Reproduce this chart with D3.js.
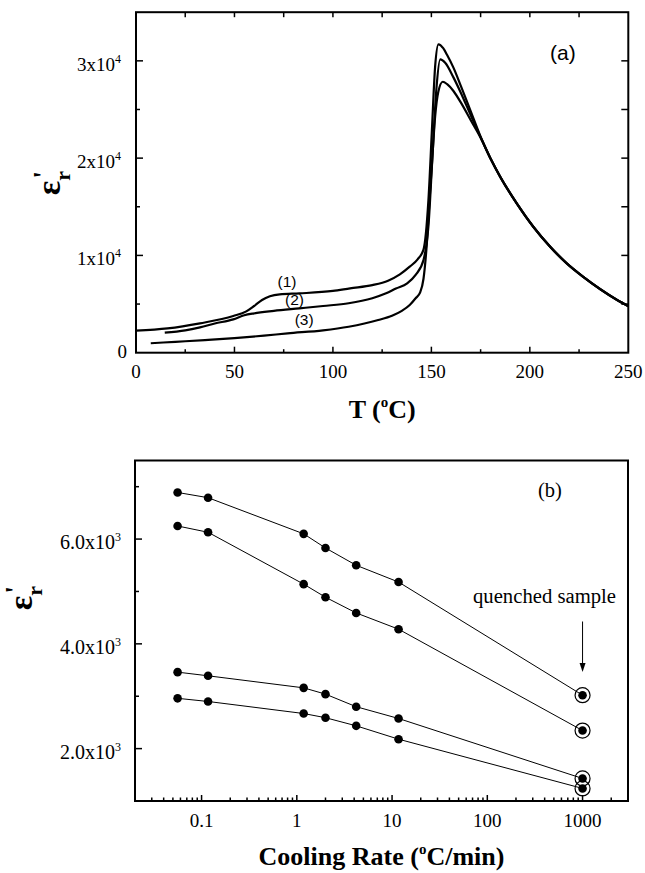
<!DOCTYPE html>
<html><head><meta charset="utf-8">
<script src="https://cdn.jsdelivr.net/npm/d3@7/dist/d3.min.js"></script>
<style>body{margin:0;background:#fff}svg{display:block}</style>
</head><body>
<svg id="c" width="645" height="873"></svg>
<script>
// ---------- Panel (a) data: T (°C) vs eps_r' ----------
const c1T = [0, 16, 32.5, 49.4, 56, 60, 64, 68, 73, 83, 100, 108.7, 120, 128, 134, 139, 143, 146, 148.5, 150.2, 151.9, 153.6, 156, 158, 161.2, 165, 170, 175, 180, 185, 193.4, 201.8, 210.4, 218.8, 227.3, 235.8, 244.3, 250];
const c1E = [2260, 2500, 3020, 3770, 4250, 4800, 5420, 5800, 6000, 6100, 6350, 6620, 6950, 7400, 8050, 8840, 9600, 10600, 15690, 22570, 29400, 31700, 31300, 30600, 29300, 27400, 24800, 22200, 20000, 18090, 15350, 12950, 10890, 9190, 7780, 6530, 5430, 4800];
const c2T = [14.6, 25, 32.5, 40, 49.4, 55, 60, 70, 83, 95, 108, 120, 127, 132, 137.7, 142, 146, 148.5, 150.5, 152.5, 154.5, 157, 161.2, 165, 170, 175, 180, 185, 193.4, 201.8, 210.4, 218.8, 227.3, 235.8, 244.3, 250];
const c2E = [2060, 2300, 2610, 3000, 3430, 3850, 4050, 4300, 4560, 4800, 5080, 5600, 6100, 6600, 7130, 8000, 9530, 13000, 20000, 27000, 30150, 29800, 28300, 26700, 24400, 22150, 19970, 18060, 15330, 12930, 10870, 9170, 7770, 6520, 5420, 4790];
const c3T = [7.5, 20, 35, 50, 65, 77, 95, 108, 116, 123, 130, 135, 139, 142, 144.3, 146, 147.7, 149, 150.2, 151.9, 153.5, 155.8, 158, 161.2, 165, 170, 175, 180, 185, 193.4, 201.8, 210.4, 218.8, 227.3, 235.8, 244.3, 250];
const c3E = [970, 1120, 1300, 1500, 1750, 1990, 2300, 2670, 3000, 3360, 3800, 4300, 4900, 5600, 6200, 7600, 11240, 15500, 19120, 24260, 26800, 27850, 27600, 26900, 25700, 23900, 22100, 19950, 18050, 15320, 12920, 10860, 9160, 7760, 6510, 5410, 4780];
const curveNames = ["(1)", "(2)", "(3)"];
const aXTicks = [0, 50, 100, 150, 200, 250];
const aXTickLabels = ["0", "50", "100", "150", "200", "250"];
const aYTicks = [0, 10000, 20000, 30000];
const aYTickLabels = ["0", "1x10^4", "2x10^4", "3x10^4"];

// ---------- Panel (b) data: cooling rate vs eps_r' ----------
const rates = [0.056, 0.117, 1.18, 2.0, 4.2, 11.7, 1000];
const serA = [6890, 6790, 6100, 5830, 5500, 5180, 3020];
const serB = [6250, 6130, 5140, 4890, 4590, 4280, 2345];
const serC = [3460, 3390, 3160, 3040, 2800, 2575, 1430];
const serD = [2960, 2900, 2670, 2590, 2435, 2180, 1240];
const bXTicks = [0.1, 1, 10, 100, 1000];
const bXTickLabels = ["0.1", "1", "10", "100", "1000"];
const bYTicks = [2000, 4000, 6000];
const bYTickLabels = ["2.0x10^3", "4.0x10^3", "6.0x10^3"];
const quenchedRate = 1000;

const serif = "'Liberation Serif','Times New Roman',serif";
const sans = "'Liberation Sans',Arial,sans-serif";
const svg = d3.select("#c");

function sciText(sel, str, supSize, supDy) {
  const [b, s] = str.split("^");
  sel.append("tspan").text(b);
  if (s) sel.append("tspan").attr("font-size", supSize).attr("dy", supDy).text(s);
}
function tickLines(g, vals, fn) {
  g.selectAll(null).data(vals).join("line").each(function(d){ const p = fn(d); d3.select(this).attr("x1",p[0]).attr("y1",p[1]).attr("x2",p[2]).attr("y2",p[3]); })
   .attr("stroke", "#000").attr("stroke-width", 1.5);
}

// ================= Panel (a) =================
const xA = d3.scaleLinear().domain([0, 250]).range([136, 628.3]);
const yA = d3.scaleLinear().domain([0, 35000]).range([352.7, 12.2]);
const gA = svg.append("g");
const [ax0, ax1] = xA.range(), [ay0, ay1] = yA.range();

const aXMinor = d3.range(25, 250, 50);
tickLines(gA, aXTicks.slice(1, -1), d => [xA(d), ay0, xA(d), ay0 - 6]);
tickLines(gA, aXMinor, d => [xA(d), ay0, xA(d), ay0 - 3.5]);
tickLines(gA, d3.range(25, 250, 25), d => [xA(d), ay1, xA(d), ay1 + 5]);
tickLines(gA, aYTicks.slice(1), d => [ax0, yA(d), ax0 + 7, yA(d)]);
tickLines(gA, d3.range(5000, 35000, 10000), d => [ax0, yA(d), ax0 + 4, yA(d)]);
tickLines(gA, d3.range(5000, 35000, 5000), d => [ax1, yA(d), ax1 - 7, yA(d)]);

gA.append("rect").attr("x", ax0).attr("y", ay1).attr("width", ax1 - ax0).attr("height", ay0 - ay1)
  .attr("fill", "none").attr("stroke", "#000").attr("stroke-width", 2);

aXTicks.forEach((v, i) => {
  gA.append("text").attr("x", xA(v)).attr("y", ay0 + 25).attr("text-anchor", "middle")
    .attr("font-family", serif).attr("font-size", 19).text(aXTickLabels[i]);
});
aYTicks.forEach((v, i) => {
  const t = gA.append("text").attr("x", v === 0 ? 127 : 121).attr("y", yA(v) + (v === 0 ? 5 : 10))
    .attr("text-anchor", "end").attr("font-family", serif).attr("font-size", 19);
  sciText(t, aYTickLabels[i], 12, -8);
});

const lineA = d3.line().x(d => xA(d[0])).y(d => yA(d[1])).curve(d3.curveMonotoneX);
[[c1T, c1E], [c2T, c2E], [c3T, c3E]].forEach(([T, E]) => {
  gA.append("path").datum(T.map((t, i) => [t, E[i]])).attr("d", lineA)
    .attr("fill", "none").attr("stroke", "#000").attr("stroke-width", 2.2).attr("stroke-linejoin", "round");
});

const labPos = [[76.7, 6720], [80.5, 4940], [85.4, 2880]];
curveNames.forEach((n, i) => {
  gA.append("text").attr("x", xA(labPos[i][0])).attr("y", yA(labPos[i][1])).attr("text-anchor", "middle")
    .attr("font-family", sans).attr("font-size", 15.5).text(n);
});
gA.append("text").attr("x", 550).attr("y", 60).attr("font-family", sans).attr("font-size", 21).text("(a)");

const tA = gA.append("text").attr("x", (ax0 + ax1) / 2).attr("y", 418).attr("text-anchor", "middle")
  .attr("font-family", serif).attr("font-weight", "bold").attr("font-size", 26);
tA.append("tspan").text("T (");
tA.append("tspan").attr("font-size", 15).attr("dy", -11).text("o");
tA.append("tspan").attr("dy", 11).text("C)");

function epsLabel(g, x, y) {
  const t = g.append("text").attr("transform", `translate(${x},${y}) rotate(-90)`).attr("text-anchor", "middle")
    .attr("font-family", serif).attr("font-weight", "bold").attr("font-size", 34);
  t.append("tspan").text("ε");
  t.append("tspan").attr("font-size", 22).attr("dy", 10).text("r");
  t.append("tspan").attr("font-size", 28).attr("dx", -8).attr("dy", -18).text("'");
}
epsLabel(gA, 60, 183);

// ================= Panel (b) =================
const xB = d3.scaleLog().domain([0.02, 3000]).range([135, 628]);
const yB = d3.scaleLinear().domain([1000, 7500]).range([801, 460.5]);
const gB = svg.append("g");
const [bx0, bx1] = xB.range(), [by0, by1] = yB.range();

const bMinor = [];
for (let e = -2; e <= 3; e++) for (let k = 2; k <= 9; k++) {
  const v = k * Math.pow(10, e);
  if (v > 0.02 && v < 3000) bMinor.push(v);
}
tickLines(gB, bXTicks, d => [xB(d), by0, xB(d), by0 - 6]);
tickLines(gB, bMinor, d => [xB(d), by0, xB(d), by0 - 3.5]);
tickLines(gB, bYTicks, d => [bx0, yB(d), bx0 + 7, yB(d)]);
tickLines(gB, [3000, 5000, 7000], d => [bx0, yB(d), bx0 + 4, yB(d)]);

gB.append("rect").attr("x", bx0).attr("y", by1).attr("width", bx1 - bx0).attr("height", by0 - by1)
  .attr("fill", "none").attr("stroke", "#000").attr("stroke-width", 2);

bXTicks.forEach((v, i) => {
  gB.append("text").attr("x", xB(v)).attr("y", by0 + 26).attr("text-anchor", "middle")
    .attr("font-family", serif).attr("font-size", 19).text(bXTickLabels[i]);
});
bYTicks.forEach((v, i) => {
  const t = gB.append("text").attr("x", 121).attr("y", yB(v) + 10)
    .attr("text-anchor", "end").attr("font-family", serif).attr("font-size", 20);
  sciText(t, bYTickLabels[i], 12, -8);
});

const lineB = d3.line().x(d => xB(d[0])).y(d => yB(d[1]));
[serA, serB, serC, serD].forEach(s => {
  const pts = rates.map((r, i) => [r, s[i]]);
  gB.append("path").datum(pts).attr("d", lineB).attr("fill", "none").attr("stroke", "#000").attr("stroke-width", 1);
  gB.selectAll(null).data(pts).join("circle").attr("cx", d => xB(d[0])).attr("cy", d => yB(d[1])).attr("r", 4.3).attr("fill", "#000");
  gB.selectAll(null).data(pts.filter(d => d[0] === quenchedRate)).join("circle")
    .attr("cx", d => xB(d[0])).attr("cy", d => yB(d[1])).attr("r", 7.5).attr("fill", "none").attr("stroke", "#000").attr("stroke-width", 1.2);
});

gB.append("text").attr("x", 538).attr("y", 497).attr("font-family", serif).attr("font-size", 20.5).text("(b)");
gB.append("text").attr("x", 473).attr("y", 603).attr("font-family", serif).attr("font-size", 20)
  .attr("textLength", 143).attr("lengthAdjust", "spacingAndGlyphs").text("quenched sample");
const axq = xB(quenchedRate);
gB.append("line").attr("x1", axq).attr("x2", axq).attr("y1", 621.5).attr("y2", 665).attr("stroke", "#000").attr("stroke-width", 1);
gB.append("path").attr("d", `M${axq - 3},${663} L${axq + 3},${663} L${axq},${672} Z`).attr("fill", "#000");

const tB = gB.append("text").attr("x", (bx0 + bx1) / 2).attr("y", 865).attr("text-anchor", "middle")
  .attr("font-family", serif).attr("font-weight", "bold").attr("font-size", 26);
tB.append("tspan").text("Cooling Rate (");
tB.append("tspan").attr("font-size", 15).attr("dy", -11).text("o");
tB.append("tspan").attr("dy", 11).text("C/min)");

epsLabel(gB, 32, 598);
</script>
</body></html>
